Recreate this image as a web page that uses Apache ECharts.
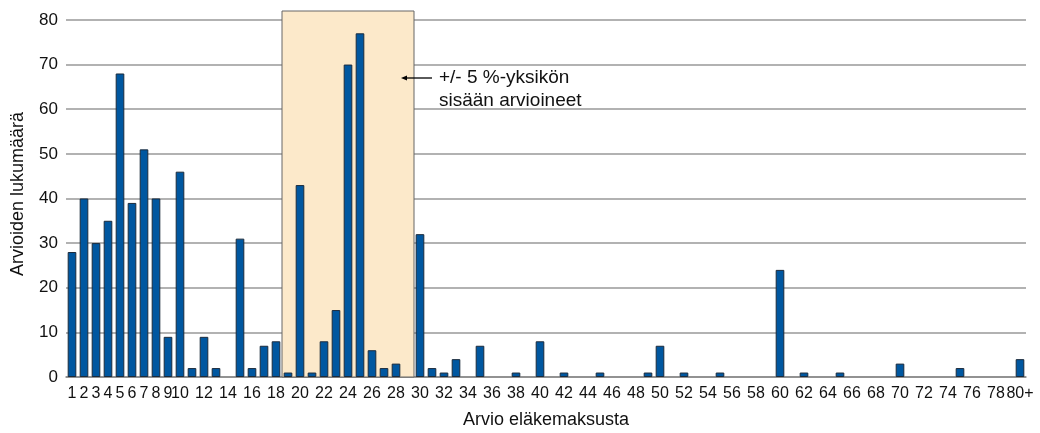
<!DOCTYPE html>
<html>
<head>
<meta charset="utf-8">
<script src="https://cdn.jsdelivr.net/npm/echarts@6/dist/echarts.min.js"></script>
<style>
  html, body { margin: 0; padding: 0; background: #fff; }
  #chart { width: 1040px; height: 433px; }
</style>
</head>
<body>
<div id="chart"></div>
<script>
// categories 1..80, the last one is "80+"
const categories = [
  "1", "2", "3", "4", "5", "6", "7", "8", "9", "10",
  "11", "12", "13", "14", "15", "16", "17", "18", "19", "20",
  "21", "22", "23", "24", "25", "26", "27", "28", "29", "30",
  "31", "32", "33", "34", "35", "36", "37", "38", "39", "40",
  "41", "42", "43", "44", "45", "46", "47", "48", "49", "50",
  "51", "52", "53", "54", "55", "56", "57", "58", "59", "60",
  "61", "62", "63", "64", "65", "66", "67", "68", "69", "70",
  "71", "72", "73", "74", "75", "76", "77", "78", "79", "80+",
];

const counts = [
  28, 40, 30, 35, 68, 39, 51, 40, 9, 46,
  2, 9, 2, 0, 31, 2, 7, 8, 1, 43,
  1, 8, 15, 70, 77, 6, 2, 3, 0, 32,
  2, 1, 4, 0, 7, 0, 0, 1, 0, 8,
  0, 1, 0, 0, 1, 0, 0, 0, 1, 7,
  0, 1, 0, 0, 1, 0, 0, 0, 0, 24,
  0, 1, 0, 0, 1, 0, 0, 0, 0, 3,
  0, 0, 0, 0, 2, 0, 0, 0, 0, 4,
];

// highlighted range: +/- 5 percentage points
const rangeStart = "19";
const rangeEnd = "29";
const rangeTop = 82;
const note = "+/- 5 %-yksikön\nsisään arvioineet";

const font = "Liberation Sans";

const chart = echarts.init(document.getElementById("chart"));

// gridlines at 0..80, the extra tick at the box top stays invisible
const gridColors = Array(9).fill("#999").concat(["rgba(0,0,0,0)"]);

chart.setOption({
  animation: false,
  textStyle: { fontFamily: font },
  grid: { left: 66, right: 14, top: 11, bottom: 56, outerBoundsMode: "none" },
  xAxis: {
    type: "category",
    data: categories,
    name: "Arvio eläkemaksusta",
    nameLocation: "middle",
    nameGap: 34,
    nameTextStyle: { fontSize: 18, color: "#111", fontFamily: font },
    axisLine: { lineStyle: { color: "#888", width: 1.5 } },
    axisTick: { show: false },
    axisLabel: {
      interval: (idx) => idx < 10 || idx % 2 === 1,
      color: "#111",
      fontSize: 16,
      margin: 9,
      fontFamily: font,
    },
  },
  yAxis: {
    type: "value",
    min: 0,
    max: rangeTop,
    interval: 10,
    name: "Arvioiden lukumäärä",
    nameLocation: "middle",
    nameGap: 39,
    nameTextStyle: { fontSize: 18, color: "#111", fontFamily: font },
    axisLabel: {
      color: "#111",
      fontSize: 17,
      margin: 8,
      fontFamily: font,
      formatter: (v) => (v % 10 === 0 ? String(v) : ""),
    },
    splitLine: { lineStyle: { color: gridColors, width: 1.5 } },
  },
  series: [
    {
      type: "bar",
      data: counts.map((v) => (v === 0 ? null : v)),
      barCategoryGap: "28%",
      itemStyle: { color: "#0057a0", borderColor: "#1b2b3c", borderWidth: 1 },
      markArea: {
        silent: true,
        itemStyle: { color: "#fce9ca", borderColor: "#666", borderWidth: 1 },
        data: [[{ xAxis: rangeStart, yAxis: 0 }, { xAxis: rangeEnd, yAxis: rangeTop }]],
      },
      z: 3,
    },
  ],
  graphic: [
    {
      type: "line",
      shape: { x1: 432, y1: 78, x2: 404, y2: 78 },
      style: { stroke: "#000", lineWidth: 1.3 },
      z: 10,
    },
    {
      type: "polygon",
      shape: { points: [[401, 78], [407, 75.5], [407, 80.5]] },
      style: { fill: "#000" },
      z: 10,
    },
    {
      type: "text",
      left: 439,
      top: 66,
      style: { text: note, fontSize: 19, lineHeight: 23, fill: "#111", fontFamily: font },
      z: 10,
    },
  ],
});
</script>
</body>
</html>
